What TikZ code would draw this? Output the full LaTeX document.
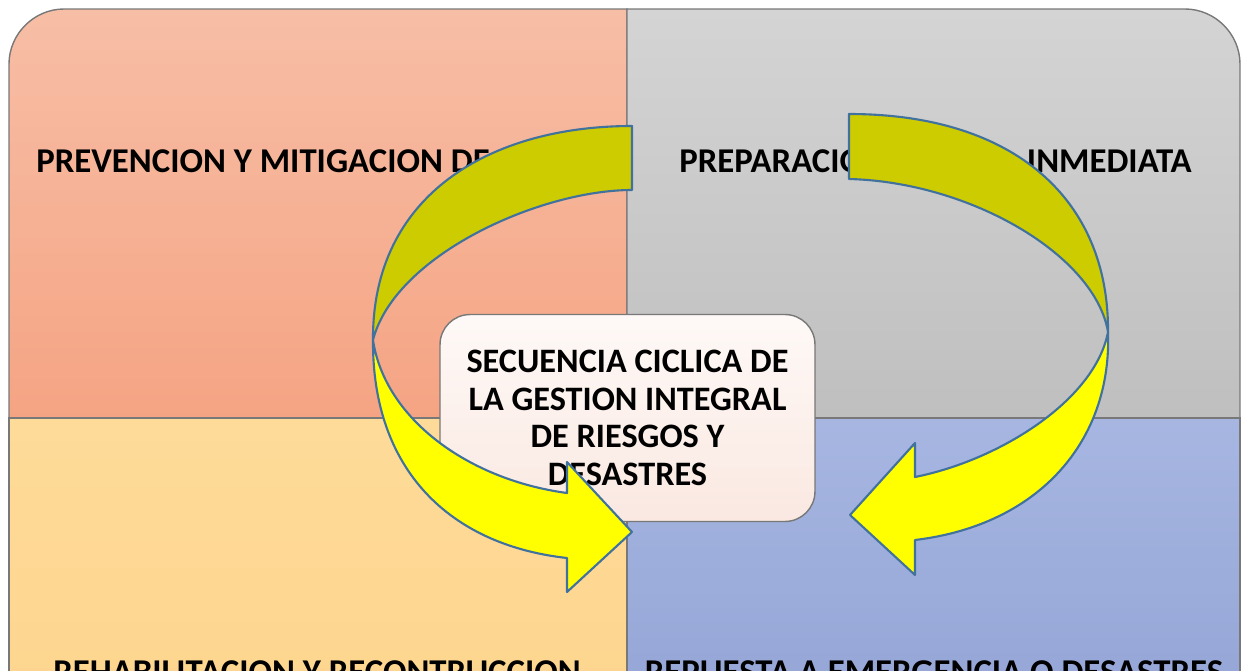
\documentclass[tikz,border=0pt]{standalone}
\usepackage{fontspec}
\setmainfont{Carlito}

\definecolor{salmontop}{RGB}{247,190,166}
\definecolor{salmonbot}{RGB}{245,164,131}
\definecolor{graytop}{RGB}{212,212,212}
\definecolor{graybot}{RGB}{191,191,191}
\definecolor{sandtop}{RGB}{254,219,153}
\definecolor{sandbot}{RGB}{253,210,138}
\definecolor{bluetop}{RGB}{167,182,225}
\definecolor{bluebot}{RGB}{140,158,210}
\definecolor{quadline}{RGB}{120,120,120}
\definecolor{boxtop}{RGB}{254,249,247}
\definecolor{boxbot}{RGB}{250,232,225}
\definecolor{olivearrow}{RGB}{204,204,0}
\definecolor{yellowarrow}{RGB}{255,255,0}
\definecolor{arrowline}{RGB}{65,113,157}

\begin{document}
\begin{tikzpicture}[x=0.02cm, y=-0.02cm,
    quad/.style={draw=quadline, line width=0.8pt},
    quadtext/.style={font=\fontsize{19.8}{22}\selectfont\bfseries, inner sep=0pt},
    centerbox/.style={draw=quadline, line width=0.8pt, rounded corners=0.6cm,
      top color=boxtop, bottom color=boxbot, minimum width=7.5cm, minimum height=4.14cm,
      align=center, font=\fontsize{19.5}{21.4}\selectfont\bfseries},
    backface/.style={fill=olivearrow, draw=arrowline, line width=1.2pt, line join=round},
    frontface/.style={fill=yellowarrow, draw=arrowline, line width=1.2pt, line join=round}
  ]
    \useasboundingbox (0,0) rectangle (1241,670);
    \clip (0,0) rectangle (1241,670);

    % Quadrants
    \shade[quad, top color=salmontop, bottom color=salmonbot]
      (9,418) -- (9,64) .. controls (9,34) and (34,9) .. (64,9) -- (627,9) -- (627,418) -- cycle;
    \shade[quad, top color=graytop, bottom color=graybot]
      (627,418) -- (627,9) -- (1185,9) .. controls (1215,9) and (1240,34) .. (1240,64) -- (1240,418) -- cycle;
    \shade[quad, top color=sandtop, bottom color=sandbot]
      (9,418) rectangle (627,827);
    \shade[quad, top color=bluetop, bottom color=bluebot]
      (627,418) rectangle (1240,827);

    % Labels
    \node[quadtext, anchor=base west] at (36,172)  (prevencion)     {PREVENCION Y MITIGACION DE};
    \node[quadtext, anchor=base west] at (679,172) (preparacion)    {PREPARACION};
    \node[quadtext, anchor=base east] at (1192,172) (inmediata)     {INMEDIATA};
    \node[quadtext, anchor=base] at (317,683)      (rehabilitacion) {REHABILITACION Y RECONTRUCCION};
    \node[quadtext, anchor=base] at (934,683)      (respuesta)      {REPUESTA A EMERGENCIA O DESASTRES};

    % Center
    \node[centerbox] at (627.5,418) (secuencia)
      {SECUENCIA CICLICA DE\\LA GESTION INTEGRAL\\DE RIESGOS Y\\DESASTRES};

    % Arrows (back face olive, front face yellow)
    \draw[backface] (632,126) .. controls (490,126) and (372,195) .. (373,340)
      .. controls (395,255) and (540,190) .. (632,190) -- cycle;
    \draw[frontface] (373,340) .. controls (372,470) and (450,545) .. (567,558)
      -- (567,592) -- (632,532) -- (567,462) -- (567,493)
      .. controls (470,480) and (385,420) .. (373,340) -- cycle;

    \draw[backface] (849,114) .. controls (1015,114) and (1109,200) .. (1108,332)
      .. controls (1095,255) and (970,182) .. (849,179) -- cycle;
    \draw[frontface] (1108,332) .. controls (1112,440) and (1040,525) .. (915,540)
      -- (915,575) -- (850,515) -- (915,443) -- (915,477)
      .. controls (1000,460) and (1095,400) .. (1108,332) -- cycle;

  \end{tikzpicture}
\end{document}
